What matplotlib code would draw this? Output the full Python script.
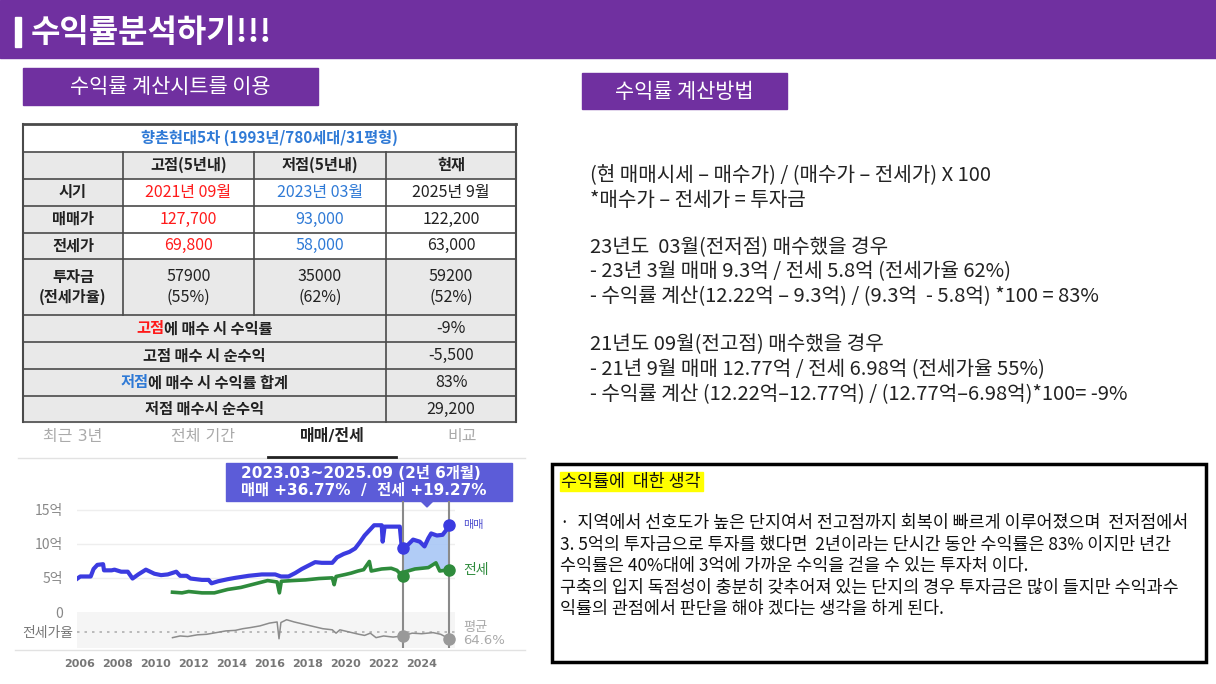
import matplotlib
matplotlib.use("Agg")
import matplotlib.pyplot as plt
from matplotlib.patches import Rectangle, Polygon

plt.rcParams["font.family"] = ["Noto Sans CJK KR", "DejaVu Sans"]

# ---- slide texts ----
title = "수익률분석하기!!!"
left_header = "수익률 계산시트를 이용"
right_header = "수익률 계산방법"

calc_lines = [
    "(현 매매시세 – 매수가) / (매수가 – 전세가) X 100",
    "*매수가 – 전세가 = 투자금",
    "23년도  03월(전저점) 매수했을 경우",
    "- 23년 3월 매매 9.3억 / 전세 5.8억 (전세가율 62%)",
    "- 수익률 계산(12.22억 – 9.3억) / (9.3억  - 5.8억) *100 = 83%",
    "21년도 09월(전고점) 매수했을 경우",
    "- 21년 9월 매매 12.77억 / 전세 6.98억 (전세가율 55%)",
    "- 수익률 계산 (12.22억–12.77억) / (12.77억–6.98억)*100= -9%",
]

note_title = "수익률에  대한 생각"
note_lines = [
    "·  지역에서 선호도가 높은 단지여서 전고점까지 회복이 빠르게 이루어졌으며  전저점에서",
    "3. 5억의 투자금으로 투자를 했다면  2년이라는 단시간 동안 수익률은 83% 이지만 년간",
    "수익률은 40%대에 3억에 가까운 수익을 걷을 수 있는 투자처 이다.",
    "구축의 입지 독점성이 충분히 갖추어져 있는 단지의 경우 투자금은 많이 들지만 수익과수",
    "익률의 관점에서 판단을 해야 겠다는 생각을 하게 된다.",
]

# ---- table ----
table_title = "향촌현대5차 (1993년/780세대/31평형)"
col_headers = ["고점(5년내)", "저점(5년내)", "현재"]
row_names = ["시기", "매매가", "전세가", "투자금\n(전세가율)"]
peak_col = ["2021년 09월", "127,700", "69,800", "57900\n(55%)"]
low_col = ["2023년 03월", "93,000", "58,000", "35000\n(62%)"]
now_col = ["2025년 9월", "122,200", "63,000", "59200\n(52%)"]
result_names = [("고점", "에 매수 시 수익률"), ("", "고점 매수 시 순수익"),
                ("저점", "에 매수 시 수익률 합계"), ("", "저점 매수시 순수익")]
result_vals = ["-9%", "-5,500", "83%", "29,200"]

# ---- chart (억 원, 전세가율 %) ----
tabs = ["최근 3년", "전체 기간", "매매/전세", "비교"]
tooltip = ["2023.03~2025.09 (2년 6개월)", "매매 +36.77%  /  전세 +19.27%"]

sale_years = [2005.9, 2006.05, 2006.6, 2006.75, 2006.95, 2007.25, 2007.3, 2007.7, 2007.85,
              2008.2, 2008.55, 2008.8, 2009.1, 2009.5, 2009.95, 2010.3, 2010.65, 2011.1,
              2011.3, 2011.65, 2011.85, 2012.45, 2012.8, 2012.95, 2013.3, 2013.8, 2014.2,
              2014.9, 2015.6, 2016.3, 2016.6, 2017.0, 2017.35, 2017.7, 2018.05, 2018.4,
              2018.75, 2019.3, 2019.55, 2019.9, 2020.2, 2020.5, 2020.75, 2021.0, 2021.2,
              2021.5, 2021.9, 2021.95, 2022.05, 2022.85, 2022.95, 2023.0, 2023.3, 2023.55,
              2023.9, 2024.15, 2024.35, 2024.5, 2024.8, 2025.1, 2025.35, 2025.45]
sale_vals = [4.9, 5.2, 5.2, 6.3, 6.9, 7.0, 6.1, 6.1, 6.2,
             5.9, 5.9, 4.9, 5.5, 6.2, 5.6, 5.4, 5.5, 5.9,
             5.3, 5.3, 4.9, 4.7, 4.7, 4.2, 4.5, 4.8, 5.0,
             5.3, 5.5, 5.5, 5.2, 5.2, 5.7, 6.3, 6.8, 7.3,
             7.2, 7.2, 8.0, 8.5, 8.8, 9.3, 10.2, 11.2, 11.8,
             12.7, 12.7, 10.3, 12.5, 12.5, 9.6, 9.3, 9.9, 10.6,
             10.3, 9.6, 10.8, 11.5, 11.2, 11.3, 12.2, 12.7]

rent_years = [2010.9, 2011.4, 2011.75, 2012.45, 2013.1, 2013.8, 2014.5, 2015.2, 2015.9,
              2016.4, 2016.52, 2016.62, 2017.2, 2017.9, 2018.6, 2019.3, 2019.4, 2019.5,
              2020.0, 2020.3, 2020.65, 2020.95, 2021.25, 2021.35, 2021.9, 2022.4, 2022.7,
              2023.0, 2023.15, 2023.65, 2024.35, 2024.75, 2024.95, 2025.45]
rent_vals = [2.9, 2.8, 3.0, 2.8, 2.8, 3.3, 3.6, 4.1, 4.6,
             4.4, 2.8, 4.5, 4.6, 4.7, 4.9, 5.0, 4.0, 5.2,
             5.5, 5.7, 6.0, 6.2, 7.4, 6.0, 6.3, 6.4, 6.1,
             5.2, 5.9, 6.3, 6.5, 7.2, 6.0, 6.2]

ratio_years = [2010.9, 2011.3, 2011.7, 2012.2, 2012.7, 2013.2, 2013.7, 2014.2, 2014.6,
               2015.0, 2015.5, 2016.0, 2016.4, 2016.5, 2016.6, 2016.9, 2017.3, 2017.8,
               2018.3, 2018.8, 2019.3, 2019.5, 2019.7, 2020.2, 2020.7, 2021.0, 2021.3,
               2021.6, 2022.0, 2022.5, 2023.0, 2023.5, 2024.0, 2024.6, 2025.0, 2025.45]
ratio_vals = [54, 57, 56, 59, 60, 63, 66, 67, 70,
              72, 75, 80, 82, 52, 81, 86, 82, 78,
              74, 70, 68, 62, 68, 64, 60, 58, 62,
              54, 57, 55, 57, 62, 61, 63, 60, 52]
ratio_avg = 64.6

window = (2023.0, 2025.45)
year_ticks = list(range(2006, 2025, 2))
value_ticks = [0, 5, 10, 15]
value_labels = ["0", "5억", "10억", "15억"]

PURPLE = "#7030a0"
BLUE = "#3b3be0"
GREEN = "#2e8b3c"
RED = "#ff1a1a"
TBLUE = "#2f7ad6"
GRAYCELL = "#e9e9e9"
MIXED = ["DejaVu Sans", "Noto Sans CJK KR"]

W, H = 1216, 684
fig = plt.figure(figsize=(W / 100, H / 100), dpi=100)
bg = fig.add_axes([0, 0, 1, 1])
bg.set_xlim(0, W)
bg.set_ylim(H, 0)
bg.axis("off")
renderer = fig.canvas.get_renderer()


def fig_rect(x0, y0, x1, y1):
    return [x0 / W, 1 - y1 / H, (x1 - x0) / W, (y1 - y0) / H]


def box(x0, y0, x1, y1, **kw):
    bg.add_patch(Rectangle((x0, y0), x1 - x0, y1 - y0, **kw))


def rich_text(xc, y, parts, **kw):
    texts = [bg.text(0, y, s, color=c, ha="left", va="center", **kw) for s, c in parts if s]
    widths = [t.get_window_extent(renderer).width for t in texts]
    x = xc - sum(widths) / 2
    for t, w in zip(texts, widths):
        t.set_x(x)
        x += w


# header bar
box(0, 0, W, 58, color=PURPLE)
box(15, 17, 21, 47, color="white")
bg.text(31, 33, title, color="white", fontsize=23, fontweight="bold", va="center")

box(23, 68, 318, 105, color=PURPLE)
bg.text(170, 87, left_header, color="white", fontsize=15, ha="center", va="center")
box(582, 73, 787, 109, color=PURPLE)
bg.text(684, 92, right_header, color="white", fontsize=15, ha="center", va="center")

# table
xs = [23, 123, 254, 386, 516]
ys = [124, 151.5, 178.5, 205.5, 232.5, 259, 315, 342, 369, 396, 422]
box(xs[0], ys[0], xs[4], ys[1], color="white")
box(xs[0], ys[1], xs[4], ys[2], color=GRAYCELL)
for r in range(4):
    box(xs[0], ys[r + 2], xs[1], ys[r + 3], color=GRAYCELL)
    box(xs[1], ys[r + 2], xs[4], ys[r + 3], color=GRAYCELL if r == 3 else "white")
box(xs[0], ys[6], xs[4], ys[10], color=GRAYCELL)

for y in ys:
    bg.plot([xs[0], xs[4]], [y, y], color="#4a4a4a", lw=1.2 if y != ys[0] else 2)
for x in xs[1:3]:
    bg.plot([x, x], [ys[1], ys[6]], color="#4a4a4a", lw=1.2)
bg.plot([xs[3], xs[3]], [ys[1], ys[10]], color="#4a4a4a", lw=1.2)
for x in (xs[0], xs[4]):
    bg.plot([x, x], [ys[0], ys[10]], color="#4a4a4a", lw=1.5)

bg.text((xs[0] + xs[4]) / 2, (ys[0] + ys[1]) / 2, table_title, color=TBLUE, fontsize=11,
        fontweight="bold", ha="center", va="center")
for c, h in enumerate(col_headers):
    bg.text((xs[c + 1] + xs[c + 2]) / 2, (ys[1] + ys[2]) / 2, h, fontsize=11,
            fontweight="bold", ha="center", va="center", color="#222")
for r in range(4):
    yc = (ys[r + 2] + ys[r + 3]) / 2
    bg.text((xs[0] + xs[1]) / 2, yc, row_names[r], fontsize=11, fontweight="bold",
            ha="center", va="center", color="#222", linespacing=1.25)
    for c, (col, colr) in enumerate([(peak_col, RED), (low_col, TBLUE), (now_col, "#222")]):
        bg.text((xs[c + 1] + xs[c + 2]) / 2, yc, col[r], fontsize=11.5,
                ha="center", va="center", color=colr if r < 3 else "#222", linespacing=1.25)
for r in range(4):
    yc = (ys[r + 6] + ys[r + 7]) / 2
    head, rest = result_names[r]
    hc = RED if r == 0 else TBLUE
    rich_text((xs[0] + xs[3]) / 2, yc, [(head, hc), (rest, "#222")], fontsize=11, fontweight="bold")
    bg.text((xs[3] + xs[4]) / 2, yc, result_vals[r], fontsize=11.5, ha="center",
            va="center", color="#222")

# calculation text
calc_y = [176, 200, 248, 272, 297, 345, 370, 395]
for y, line in zip(calc_y, calc_lines):
    bg.text(590, y, line, fontsize=14.5, va="center", color="#222")

# note box
box(552, 464, 1206, 662, fill=False, edgecolor="black", lw=2.5)
box(560, 472, 703, 491, color="#ffff00")
bg.text(561, 482, note_title, fontsize=12.5, va="center", color="#111")
note_y = [523, 545, 566, 588, 609]
for y, line in zip(note_y, note_lines):
    bg.text(560, y, line, fontsize=12.5, va="center", color="#111")

# chart tabs
tab_x = [73, 203, 332, 462]
for x, t in zip(tab_x, tabs):
    sel = t == "매매/전세"
    bg.text(x, 437, t, fontsize=11.5, ha="center", va="center", family=MIXED,
            color="#222" if sel else "#aaaaaa", fontweight="bold" if sel else "normal")
bg.plot([18, 525], [458, 458], color="#e2e2e2", lw=1)
bg.plot([268, 396], [457, 457], color="#222", lw=2)
bg.plot([15, 525], [650, 650], color="#e2e2e2", lw=1)

# tooltip
box(226, 463, 512, 501, color="#5c5cd8")
bg.add_patch(Polygon([[420, 500], [434, 500], [427, 507]], color="#5c5cd8"))
bg.text(241, 473, tooltip[0], fontsize=11, color="white", fontweight="bold", va="center",
        family=MIXED)
bg.text(241, 490, tooltip[1], fontsize=11, color="white", fontweight="bold", va="center",
        family=MIXED)

# main price axes
px0, px1 = 77, 455
yr = lambda p: 2006 + (p - 79.3) / 19.02
ax = fig.add_axes(fig_rect(px0, 501, px1, 612))
ax.set_xlim(yr(px0), yr(px1))
ax.set_ylim(0, (612 - 501) / 6.83)
for s in ax.spines.values():
    s.set_visible(False)
ax.patch.set_alpha(0)
for v in value_ticks[1:]:
    ax.axhline(v, color="#eeeeee", lw=1, zorder=0)
ax.set_yticks(value_ticks, value_labels)
ax.tick_params(axis="y", length=0, pad=10, labelsize=10, labelcolor="#888888")
ax.tick_params(axis="x", length=0, labelbottom=False)

i0 = sale_years.index(window[0])
i1 = sale_years.index(window[1])
j0 = rent_years.index(window[0])
j1 = rent_years.index(window[1])
poly_x = sale_years[i0:i1 + 1] + rent_years[j0:j1 + 1][::-1]
poly_y = sale_vals[i0:i1 + 1] + rent_vals[j0:j1 + 1][::-1]
ax.fill(poly_x, poly_y, color="#a9c7f6", alpha=0.9, lw=0, zorder=1)

ax.plot(rent_years, rent_vals, color=GREEN, lw=2.6, zorder=2)
ax.plot(sale_years, sale_vals, color=BLUE, lw=3, zorder=3)
for x in window:
    ax.axvline(x, color="#8a8a8a", lw=1.5, zorder=4)
ax.plot([sale_years[i0], sale_years[i1]], [sale_vals[i0], sale_vals[i1]], "o",
        color=BLUE, ms=8, zorder=5)
ax.plot([rent_years[j0], rent_years[j1]], [rent_vals[j0], rent_vals[j1]], "o",
        color=GREEN, ms=8, zorder=5)
ax.annotate("매매", (sale_years[i1], sale_vals[i1]), xytext=(14, 0), textcoords="offset pixels",
            va="center", fontsize=8, color="#5050d0", annotation_clip=False)
ax.annotate("전세", (rent_years[j1], rent_vals[j1]), xytext=(14, 0), textcoords="offset pixels",
            va="center", fontsize=10, color=GREEN, annotation_clip=False)

# jeonse ratio band
rx = fig.add_axes(fig_rect(px0, 612, px1, 648), sharex=ax)
rx.set_ylim(35.5, 99.8)
rx.set_facecolor("#f5f5f5")
for s in rx.spines.values():
    s.set_visible(False)
rx.axhline(ratio_avg, color="#b0b0b0", lw=1.2, ls=(0, (1.5, 3)), zorder=1)
rx.plot(ratio_years, ratio_vals, color="#8c8c8c", lw=1.1, zorder=2)
k0 = ratio_years.index(window[0])
k1 = ratio_years.index(window[1])
for x in window:
    rx.axvline(x, color="#8a8a8a", lw=1.5, zorder=3)
rx.plot([ratio_years[k0], ratio_years[k1]], [ratio_vals[k0], ratio_vals[k1]], "o",
        color="#999999", ms=8, zorder=4)
rx.set_yticks([ratio_avg], ["전세가율"])
rx.tick_params(axis="y", length=0, pad=3, labelsize=10, labelcolor="#777777")
rx.set_xticks(year_ticks, [str(y) for y in year_ticks])
rx.tick_params(axis="x", length=0, pad=8, labelsize=8, labelcolor="#777777")
for lab in rx.get_xticklabels():
    lab.set_family(["DejaVu Sans"])
    lab.set_fontweight("bold")
rx.annotate("평균\n64.6%", (ratio_years[k1], ratio_avg), xytext=(14, -2),
            textcoords="offset pixels", va="center", fontsize=9.5, color="#aaaaaa",
            family=MIXED, linespacing=1.0, annotation_clip=False)

fig.savefig("out.png", dpi=100)
